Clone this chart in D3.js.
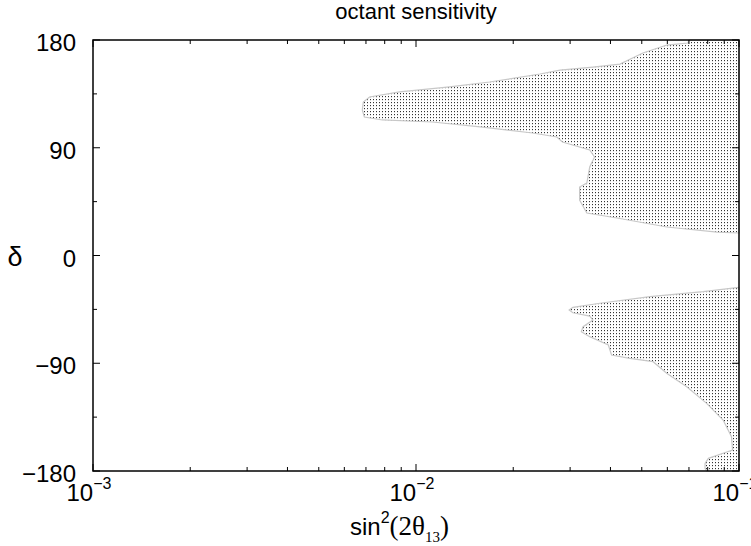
<!DOCTYPE html>
<html>
<head>
<meta charset="utf-8">
<script src="https://cdn.jsdelivr.net/npm/d3@7"></script>
<style>
  body { margin: 0; background: #fff; }
  text { font-family: "Liberation Sans", Arial, sans-serif; }
</style>
</head>
<body>
<svg id="svg"></svg>
<script>
// octant sensitivity regions, [sin^2(2theta13), delta]
var upperRegion = [[0.1,180],[0.0700,180],[0.0695,177.5],[0.0598,175.8],[0.0504,169.1],[0.0428,159.9],
	[0.0353,157.4],[0.0279,154.9],[0.0242,151.6],[0.0169,144.9],[0.0127,140.8],[0.00889,136.6],
	[0.00718,132.4],[0.00687,128.2],[0.00682,121.5],[0.00692,115.7],[0.00787,113.2],[0.01125,111.5],
	[0.01607,107.3],[0.02296,102.3],[0.0273,99.0],[0.0284,94.8],[0.0345,88.1],[0.0357,82.3],
	[0.0345,73.9],[0.0338,60.5],[0.0321,57.2],[0.0321,46.3],[0.0338,35.5],[0.0419,31.3],
	[0.0598,23.8],[0.0855,19.6],[0.1,18.8]];

var lowerRegion = [[0.1,-26.6],[0.0774,-30.2],[0.0530,-34.4],[0.0371,-39.9],[0.0306,-43.3],[0.0298,-45.5],
	[0.0306,-47.8],[0.0345,-50.6],[0.0353,-53.9],[0.0329,-59.5],[0.0325,-63.6],[0.0345,-67.8],
	[0.0394,-74.8],[0.0403,-83.1],[0.0459,-85.9],[0.0542,-88.7],[0.0597,-98.4],[0.0689,-109.6],
	[0.0794,-123.5],[0.0893,-137.4],[0.0948,-151.4],[0.0955,-162.5],[0.0893,-165.2],[0.0804,-169.4],
	[0.0785,-173.6],[0.0785,-177.7],[0.0794,-180],[0.1,-180]];

var yMajor = [-180, -90, 0, 90, 180],
	yMinor = [-135, -45, 45, 135],
	xMajorExp = [-3, -2, -1],
	xMinorMult = [2, 3, 4, 5, 6, 7, 8, 9];

var width = 751,
	height = 546,
	pLeft = 93,
	pRight = 739,
	pTop = 40,
	pBottom = 471;

var svg = d3.select("#svg")
	.attr("width", width)
	.attr("height", height);

var x = d3.scaleLog().domain([1e-3, 1e-1]).range([pLeft, pRight]),
	y = d3.scaleLinear().domain([-180, 180]).range([pBottom, pTop]);

// stipple pattern
var pat = svg.append("defs").append("pattern")
	.attr("id", "dots")
	.attr("patternUnits", "userSpaceOnUse")
	.attr("width", 3)
	.attr("height", 3);
pat.append("rect").attr("x", 1).attr("y", 0).attr("width", 1).attr("height", 1).attr("fill", "#333");
pat.append("rect").attr("x", 1).attr("y", 1).attr("width", 1).attr("height", 1).attr("fill", "#ddd");

var line = d3.line()
	.x(function(d){ return x(d[0]); })
	.y(function(d){ return y(d[1]); });

[upperRegion, lowerRegion].forEach(function(r){
	svg.append("path")
		.attr("d", line(r) + "Z")
		.attr("fill", "url(#dots)")
		.attr("stroke", "#c8c8c8")
		.attr("stroke-width", 1.2);
});

// ticks
var ticks = svg.append("g").attr("stroke", "#000").attr("stroke-width", 1);
function yTick(v, len){
	ticks.append("line").attr("x1", pLeft).attr("x2", pLeft + len).attr("y1", y(v)).attr("y2", y(v));
	ticks.append("line").attr("x1", pRight).attr("x2", pRight - len).attr("y1", y(v)).attr("y2", y(v));
}
function xTick(v, len){
	ticks.append("line").attr("x1", x(v)).attr("x2", x(v)).attr("y1", pBottom).attr("y2", pBottom - len);
	ticks.append("line").attr("x1", x(v)).attr("x2", x(v)).attr("y1", pTop).attr("y2", pTop + len);
}
yMajor.forEach(function(v){ yTick(v, 7); });
yMinor.forEach(function(v){ yTick(v, 4); });
xMajorExp.forEach(function(e){ xTick(Math.pow(10, e), 7); });
[-3, -2].forEach(function(e){
	xMinorMult.forEach(function(m){ xTick(m * Math.pow(10, e), 4); });
});

// frame
svg.append("rect")
	.attr("x", pLeft).attr("y", pTop)
	.attr("width", pRight - pLeft).attr("height", pBottom - pTop)
	.attr("fill", "none")
	.attr("stroke", "#000")
	.attr("stroke-width", 1.5);

// y tick labels
svg.selectAll(".ylab")
	.data(yMajor)
	.enter()
	.append("text")
	.attr("class", "ylab")
	.attr("x", 76)
	.attr("y", function(d){ return y(d) + 11; })
	.attr("text-anchor", "end")
	.attr("font-size", 24)
	.text(function(d){ return d < 0 ? "\u2212" + Math.abs(d) : d; });

// x tick labels
xMajorExp.forEach(function(e){
	var t = svg.append("text")
		.attr("x", x(Math.pow(10, e)) - 4)
		.attr("y", 501)
		.attr("text-anchor", "middle")
		.attr("font-size", 24);
	t.append("tspan").text("10");
	t.append("tspan").attr("font-size", 16).attr("dy", -12).text("\u2212" + Math.abs(e));
});

// title
svg.append("text")
	.attr("x", (pLeft + pRight) / 2)
	.attr("y", 19)
	.attr("text-anchor", "middle")
	.attr("font-size", 22)
	.text("octant sensitivity");

// x axis label
var xl = svg.append("text")
	.attr("x", 350)
	.attr("y", 535)
	.attr("font-size", 24);
xl.append("tspan").text("sin");
xl.append("tspan").attr("font-size", 16).attr("dy", -12).text("2");
xl.append("tspan").attr("dy", 12).attr("font-family", "Liberation Serif, Times, serif").attr("font-size", 27).text("(2\u03b8");
xl.append("tspan").attr("dy", 7).attr("font-family", "Liberation Serif, Times, serif").attr("font-size", 15).text("13");
xl.append("tspan").attr("dy", -7).attr("font-family", "Liberation Serif, Times, serif").attr("font-size", 27).text(")");

// y axis label
svg.append("text")
	.attr("x", 15)
	.attr("y", 266)
	.attr("text-anchor", "middle")
	.attr("font-family", "Liberation Serif, Times, serif")
	.attr("font-size", 27)
	.text("\u03b4");
</script>
</body>
</html>
